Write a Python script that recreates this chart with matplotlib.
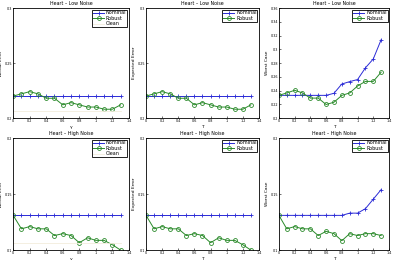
import matplotlib
matplotlib.use("Agg")
import matplotlib.pyplot as plt

# -------------------------------
# data
# -------------------------------
gamma = [0, 0.1, 0.2, 0.3, 0.4, 0.5, 0.6, 0.7, 0.8, 0.9, 1.0, 1.1, 1.2, 1.3]

low_nominal = [0.220] * 14
low_robust = [0.220, 0.222, 0.224, 0.222, 0.218, 0.218, 0.212, 0.214, 0.212, 0.210, 0.210, 0.208, 0.208, 0.212]
low_clean = [0.206] * 14

low_wc_nominal = [0.233, 0.233, 0.233, 0.233, 0.233, 0.233, 0.233, 0.236, 0.2495, 0.253, 0.256, 0.273, 0.286, 0.314]
low_wc_robust = [0.233, 0.2365, 0.2404, 0.2365, 0.229, 0.229, 0.2197, 0.223, 0.233, 0.2365, 0.2466, 0.2533, 0.2533, 0.2668]

high_nominal = [0.131] * 14
high_robust = [0.131, 0.119, 0.121, 0.119, 0.119, 0.113, 0.1147, 0.113, 0.1066, 0.111, 0.1087, 0.1087, 0.1048, 0.100]
high_clean = [0.1066] * 14

high_wc_nominal = [0.131, 0.131, 0.131, 0.131, 0.131, 0.131, 0.131, 0.131, 0.131, 0.133, 0.133, 0.137, 0.1455, 0.154]
high_wc_robust = [0.131, 0.119, 0.121, 0.119, 0.119, 0.113, 0.1168, 0.1147, 0.1084, 0.1147, 0.113, 0.1147, 0.1147, 0.113]

xticks = [0, 0.2, 0.4, 0.6, 0.8, 1, 1.2, 1.4]
xtick_labels = ["0", "0.2", "0.4", "0.6", "0.8", "1", "1.2", "1.4"]

# -------------------------------
# layout
# -------------------------------
plt.rcParams["font.family"] = "DejaVu Sans"
fig = plt.figure(figsize=(3.99, 2.60), dpi=100)

lefts = [0.033, 0.366, 0.699]
widths = [0.290, 0.283, 0.276]
row_bottom = [0.546, 0.038]
row_height = [0.423, 0.431]

blue = "#2b2bd6"
green = "#2a8a2a"


def panel(r, c, nominal, robust, clean, ylim, yticks, ylabel, xlabel, title):
    ax = fig.add_axes([lefts[c], row_bottom[r], widths[c], row_height[r]])
    ax.plot(gamma, nominal, color=blue, marker="+", ms=3.5, lw=0.7, mew=0.6, label="Nominal")
    ax.plot(gamma, robust, color=green, marker="o", ms=2.8, lw=0.7, mew=0.6,
            mfc="none", label="Robust")
    if clean is not None:
        ax.plot(gamma, clean, color="#f2ecdc", lw=0.6, label="Clean")
    ax.set_xlim(0, 1.4)
    ax.set_ylim(*ylim)
    ax.set_xticks(xticks)
    ax.set_xticklabels(xtick_labels)
    ax.set_yticks(yticks)
    ax.set_yticklabels([f"{v:g}" for v in yticks])
    ax.tick_params(labelsize=2.4, length=1.2, width=0.4, pad=0.8, direction="in")
    for s in ax.spines.values():
        s.set_linewidth(0.6)
    ax.set_ylabel(ylabel, fontsize=3.2, labelpad=1)
    ax.set_xlabel(xlabel, fontsize=3.2, labelpad=1)
    ax.set_title(title, fontsize=3.4, pad=2)
    leg = ax.legend(loc="upper right", fontsize=3.5, handlelength=2.2,
                    borderpad=0.2, labelspacing=0.1, handletextpad=0.4,
                    fancybox=False, framealpha=1, borderaxespad=0.3)
    leg.get_frame().set_edgecolor("black")
    leg.get_frame().set_linewidth(0.6)
    return ax


panel(0, 0, low_nominal, low_robust, low_clean, (0.2, 0.3), [0.2, 0.25, 0.3],
      "Actual Error", "γ", "Heart – Low Noise")
panel(0, 1, low_nominal, low_robust, None, (0.2, 0.3), [0.2, 0.25, 0.3],
      "Expected Error", "T", "Heart – Low Noise")
panel(0, 2, low_wc_nominal, low_wc_robust, None, (0.2, 0.36),
      [0.2, 0.22, 0.24, 0.26, 0.28, 0.3, 0.32, 0.34, 0.36],
      "Worst Case", "T", "Heart – Low Noise")
panel(1, 0, high_nominal, high_robust, high_clean, (0.1, 0.2), [0.1, 0.15, 0.2],
      "Actual Error", "γ", "Heart – High Noise")
panel(1, 1, high_nominal, high_robust, None, (0.1, 0.2), [0.1, 0.15, 0.2],
      "Expected Error", "T", "Heart – High Noise")
panel(1, 2, high_wc_nominal, high_wc_robust, None, (0.1, 0.2), [0.1, 0.15, 0.2],
      "Worst Case", "T", "Heart – High Noise")

fig.savefig("out.png", dpi=100)
